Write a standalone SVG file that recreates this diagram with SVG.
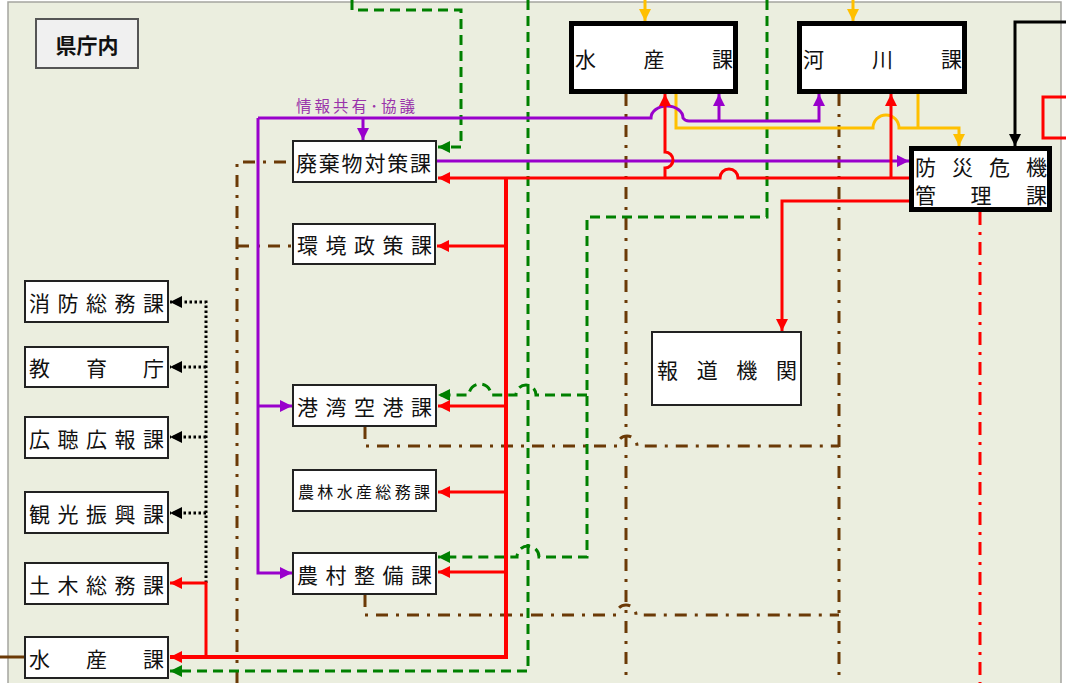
<svg xmlns="http://www.w3.org/2000/svg" width="1066" height="683" viewBox="0 0 1066 683">
<style>
.bg{fill:#EBEEDF;stroke:#A5A5A0;stroke-width:1.5}
.n{fill:#fff;stroke:#222;stroke-width:2}
.nt{fill:#fff;stroke:#000;stroke-width:5}
.t{font-family:"Noto Sans CJK JP","Noto Sans CJK SC",sans-serif;font-size:21px;fill:#111;dominant-baseline:central}
.ts{font-size:16px}
.c{fill:none;stroke-linejoin:miter}
.pu{stroke:#9900CC;stroke-width:3}
.rd{stroke:#FF0000;stroke-width:3}
.rdw{stroke:#FF0000;stroke-width:4}
.rdd{stroke:#FF0000;stroke-width:3;stroke-dasharray:13 7 3 7}
.ye{stroke:#FFC000;stroke-width:3}
.gr{stroke:#008000;stroke-width:3;stroke-dasharray:10 6}
.br{stroke:#6B3A07;stroke-width:3;stroke-dasharray:12 8 3 8}
.brs{stroke:#6B3A07;stroke-width:3}
.bk{stroke:#000;stroke-width:3}
.bkd{stroke:#000;stroke-width:3;stroke-dasharray:2.5 2.5}
</style>
<defs>
<marker id="aP" viewBox="0 0 12 12" refX="12" refY="6" markerWidth="12" markerHeight="12" markerUnits="userSpaceOnUse" orient="auto"><path d="M0,0 L12,6 L0,12 z" fill="#9900CC"/></marker>
<marker id="aR" viewBox="0 0 12 12" refX="12" refY="6" markerWidth="12" markerHeight="12" markerUnits="userSpaceOnUse" orient="auto"><path d="M0,0 L12,6 L0,12 z" fill="#FF0000"/></marker>
<marker id="aY" viewBox="0 0 12 12" refX="12" refY="6" markerWidth="12" markerHeight="12" markerUnits="userSpaceOnUse" orient="auto"><path d="M0,0 L12,6 L0,12 z" fill="#FFC000"/></marker>
<marker id="aG" viewBox="0 0 12 12" refX="12" refY="6" markerWidth="12" markerHeight="12" markerUnits="userSpaceOnUse" orient="auto"><path d="M0,0 L12,6 L0,12 z" fill="#008000"/></marker>
<marker id="aK" viewBox="0 0 12 12" refX="12" refY="6" markerWidth="12" markerHeight="12" markerUnits="userSpaceOnUse" orient="auto"><path d="M0,0 L12,6 L0,12 z" fill="#000"/></marker>
</defs>
<rect width="1066" height="683" fill="#fff"/>
<rect class="bg" x="8" y="2" width="1053" height="700"/>

<g id="connectors">
<path class="c br" d="M237,683 V162 H292"/>
<path class="c br" d="M237,246 H292"/>
<path class="c br" d="M365,427 V446 H617 A10,10 0 0 1 637,446 H839"/>
<path class="c br" d="M365,595 V615 H616 A10,10 0 0 1 636,615 H839"/>
<path class="c br" d="M626,94 V683"/>
<path class="c br" d="M839,94 V683"/>
<path class="c brs" d="M0,657 H24"/>
<path class="c gr" d="M352,0 V10 H461 V147 H438" marker-end="url(#aG)"/>
<path class="c gr" d="M528,0 V671 H170" marker-end="url(#aG)"/>
<path class="c gr" d="M767,0 V217 H587 V557 H539 A11,11 0 0 0 517,557 H438" marker-end="url(#aG)"/>
<path class="c gr" d="M587,395 H536 A10,10 0 0 0 516,395 H491 A11,11 0 0 0 469,395 H438" marker-end="url(#aG)"/>
<path class="c bkd" d="M206,583 V302 H170" marker-end="url(#aK)"/>
<path class="c bkd" d="M206,367 H170" marker-end="url(#aK)"/>
<path class="c bkd" d="M206,437 H170" marker-end="url(#aK)"/>
<path class="c bkd" d="M206,513 H170" marker-end="url(#aK)"/>
<path class="c ye" d="M645,0 V21" marker-end="url(#aY)"/>
<path class="c ye" d="M853,0 V21" marker-end="url(#aY)"/>
<path class="c ye" d="M676,94 V128 H873 A13,13 0 0 1 899,128 H959 V146" marker-end="url(#aY)"/>
<path class="c ye" d="M918,94 V128"/>
<path class="c pu" d="M258,118 V573 H292" marker-end="url(#aP)"/>
<path class="c pu" d="M258,406 H292" marker-end="url(#aP)"/>
<path class="c pu" d="M258,118 H651 A16,12 0 0 1 683,118 Q685,121 689,121 H819 V94" marker-end="url(#aP)"/>
<path class="c pu" d="M719,121 V94" marker-end="url(#aP)"/>
<path class="c pu" d="M363,118 V140" marker-end="url(#aP)"/>
<path class="c pu" d="M437,161 H909" marker-end="url(#aP)"/>
<path class="c rd" d="M909,178 H738 A9,9 0 0 0 720,178 H438" marker-end="url(#aR)"/>
<path class="c rdw" d="M506,178 V657 H170" marker-end="url(#aR)"/>
<path class="c rd" d="M206,657 V583 H170" marker-end="url(#aR)"/>
<path class="c rd" d="M506,246 H437" marker-end="url(#aR)"/>
<path class="c rd" d="M506,406 H438" marker-end="url(#aR)"/>
<path class="c rd" d="M506,492 H438" marker-end="url(#aR)"/>
<path class="c rd" d="M506,572 H438" marker-end="url(#aR)"/>
<path class="c rd" d="M665,178 V168 A8,8 0 0 0 665,152 V94" marker-end="url(#aR)"/>
<path class="c rd" d="M891,178 V94" marker-end="url(#aR)"/>
<path class="c rd" d="M909,201 H782 V331" marker-end="url(#aR)"/>
<path class="c rdd" d="M980,212 V683"/>
<path class="c rd" d="M1066,97 H1043 V138 H1066"/>
<path class="c bk" d="M1066,22 H1015 V146" marker-end="url(#aK)"/>
</g>

<g id="label-info">
<text x="296" y="112" font-family="Noto Sans CJK JP, sans-serif" font-size="15.5" fill="#9933AA" textLength="119" lengthAdjust="spacing">情報共有･協議</text>
</g>

<g id="kenchonai">
<rect x="36" y="19" width="102" height="49" fill="#F0F0F0" stroke="#555" stroke-width="2"/>
<text class="t" x="87" y="44" text-anchor="middle" font-weight="bold" font-size="23">県庁内</text>
</g>

<g id="haikibutsu"><rect class="n" x="293" y="141" width="143" height="41"/><text class="t" x="296" y="161.5" textLength="135" lengthAdjust="spacing">廃棄物対策課</text></g>
<g id="kankyo"><rect class="n" x="293" y="224" width="142" height="40"/><text class="t" x="297" y="244" textLength="135" lengthAdjust="spacing">環境政策課</text></g>
<g id="kowan"><rect class="n" x="293" y="385" width="143" height="41"/><text class="t" x="297" y="405.5" textLength="135" lengthAdjust="spacing">港湾空港課</text></g>
<g id="norin"><rect class="n" x="293" y="470" width="143" height="41"/><text class="t ts" x="298" y="490.5" textLength="132" lengthAdjust="spacing">農林水産総務課</text></g>
<g id="noson"><rect class="n" x="293" y="553" width="143" height="41"/><text class="t" x="297" y="573.5" textLength="135" lengthAdjust="spacing">農村整備課</text></g>

<g id="shobo"><rect class="n" x="25" y="281" width="143" height="41"/><text class="t" x="29" y="301.5" textLength="135" lengthAdjust="spacing">消防総務課</text></g>
<g id="kyoiku"><rect class="n" x="25" y="347" width="143" height="40"/><text class="t" x="29" y="367" textLength="135" lengthAdjust="spacing">教育庁</text></g>
<g id="kocho"><rect class="n" x="25" y="417" width="143" height="41"/><text class="t" x="29" y="437.5" textLength="135" lengthAdjust="spacing">広聴広報課</text></g>
<g id="kanko"><rect class="n" x="25" y="492" width="143" height="41"/><text class="t" x="29" y="512.5" textLength="135" lengthAdjust="spacing">観光振興課</text></g>
<g id="doboku"><rect class="n" x="25" y="563" width="143" height="41"/><text class="t" x="29" y="583.5" textLength="135" lengthAdjust="spacing">土木総務課</text></g>
<g id="suisan-left"><rect class="n" x="25" y="637" width="143" height="41"/><text class="t" x="29" y="657.5" textLength="135" lengthAdjust="spacing">水産課</text></g>

<g id="suisan-top"><rect class="nt" x="571.5" y="23.5" width="164" height="68"/><text class="t" x="575" y="57.5" font-size="22" textLength="158" lengthAdjust="spacing">水産課</text></g>
<g id="kasen"><rect class="nt" x="799.5" y="23.5" width="165" height="68"/><text class="t" x="803" y="57.5" font-size="22" textLength="159" lengthAdjust="spacing">河川課</text></g>
<g id="bosai"><rect class="nt" x="911.5" y="148.5" width="138" height="61"/><text class="t" x="915" y="166" font-size="21" textLength="132" lengthAdjust="spacing">防災危機</text><text class="t" x="915" y="194" font-size="21" textLength="132" lengthAdjust="spacing">管理課</text></g>
<g id="hodo"><rect class="n" x="652" y="332" width="149" height="73"/><text class="t" x="657" y="368.5" font-size="22" textLength="140" lengthAdjust="spacing">報道機関</text></g>
</svg>
